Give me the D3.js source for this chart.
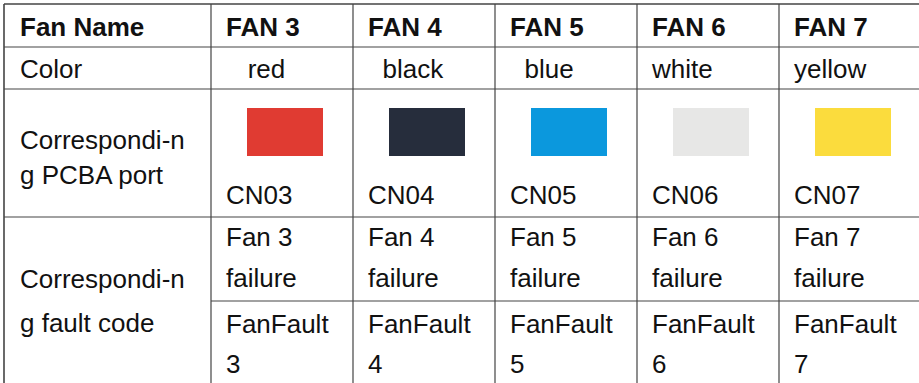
<!DOCTYPE html>
<html><head><meta charset="utf-8">
<script src="https://cdn.jsdelivr.net/npm/d3@7"></script>
<style>
html,body{margin:0;padding:0;background:#fff;}
svg{display:block;}
text{font-family:"Liberation Sans",Arial,sans-serif;font-size:26px;fill:#111;}
</style></head><body>
<svg id="c" width="919" height="383"></svg>
<script>
// ---- data ----
const fans = ["FAN 3","FAN 4","FAN 5","FAN 6","FAN 7"];
const colorNames = ["\u00A0\u00A0\u00A0red","\u00A0\u00A0black","\u00A0\u00A0blue","white","yellow"];
const swatchColors = ["#E03B32","#262D3C","#0B98DD","#E7E7E6","#FBDC3D"];
const ports = ["CN03","CN04","CN05","CN06","CN07"];
const failureLines = [["Fan 3","failure"],["Fan 4","failure"],["Fan 5","failure"],["Fan 6","failure"],["Fan 7","failure"]];
const faultCodes = [["FanFault","3"],["FanFault","4"],["FanFault","5"],["FanFault","6"],["FanFault","7"]];
const rowLabels = [["Fan Name"],["Color"],["Correspondi-n","g PCBA port"],["Correspondi-n","g fault code"]];

// ---- layout ----
const svg = d3.select("#c");
const left = 4, firstW = 207, colW = 142;
const x = d3.scaleBand().domain(fans).range([left+firstW, left+firstW+colW*fans.length]).padding(0);
const rowEdges = [4, 47, 89, 217, 386];
const innerY = 301;
const pad = 16;
const lineCol = "#444";

const g = svg.append("g");

// text helpers
function lines(xPos, baselines, arr, bold){
  arr.forEach((t,i)=>{
    g.append("text").attr("x",xPos).attr("y",baselines[i])
      .attr("font-weight",bold?"bold":"normal")
      .style("white-space","pre")
      .text(t);
  });
}

// row label column
lines(left+pad, [36], rowLabels[0], true);
lines(left+pad, [78], rowLabels[1], false);
lines(left+pad, [149,184], rowLabels[2], false);
lines(left+pad, [288,332], rowLabels[3], false);

// fan columns
fans.forEach((f,i)=>{
  const x0 = x(f);
  lines(x0+pad-1, [36], [f], true);
  lines(x0+pad-1, [78], [colorNames[i]], false);
  g.append("rect").attr("x", x0+36).attr("y",108).attr("width",76).attr("height",48)
    .attr("fill", swatchColors[i]);
  lines(x0+pad-1, [204], [ports[i]], false);
  lines(x0+pad-1, [246,287], failureLines[i], false);
  lines(x0+pad-1, [333,373], faultCodes[i], false);
});

// grid lines
const xRight = left+firstW+colW*fans.length;
rowEdges.forEach((y,i)=>{
  g.append("line").attr("x1",left).attr("x2",xRight).attr("y1",y).attr("y2",y)
    .attr("stroke",lineCol).attr("stroke-width", (i===0)?1.6:1.2);
});
g.append("line").attr("x1",left+firstW).attr("x2",xRight).attr("y1",innerY).attr("y2",innerY)
  .attr("stroke",lineCol).attr("stroke-width",1.2);
const vEdges = [left, left+firstW].concat(fans.map(f=>x(f)+colW));
vEdges.forEach((xv,i)=>{
  g.append("line").attr("x1",xv).attr("x2",xv).attr("y1",rowEdges[0]).attr("y2",rowEdges[rowEdges.length-1])
    .attr("stroke",lineCol).attr("stroke-width",(i===0)?1.6:1.2);
});
</script>
</body></html>
